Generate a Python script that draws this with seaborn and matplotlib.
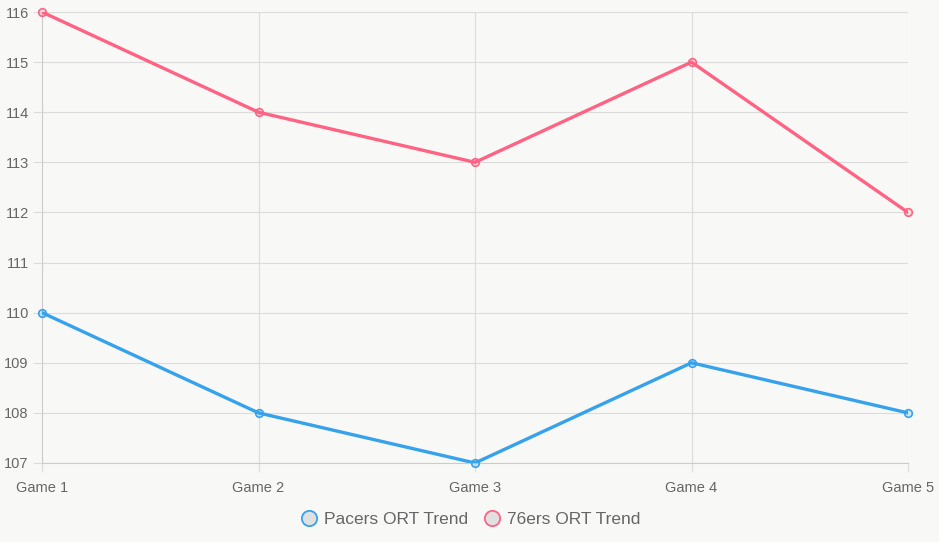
import matplotlib
matplotlib.use("Agg")
import matplotlib.pyplot as plt
import seaborn as sns
import pandas as pd
from matplotlib.lines import Line2D

games = ["Game 1", "Game 2", "Game 3", "Game 4", "Game 5"]
pacers = [110, 108, 107, 109, 108]
sixers = [116, 114, 113, 115, 112]
series_names = ["Pacers ORT Trend", "76ers ORT Trend"]
y_ticks = [107, 108, 109, 110, 111, 112, 113, 114, 115, 116]

sns.set_theme(style="white")
plt.rcParams["font.family"] = ["Liberation Sans", "DejaVu Sans"]

bg = "#f8f8f6"
blue = "#36a2eb"
pink = "#ff6384"
grid_c = "#dcdcdc"
text_c = "#666666"

df = pd.DataFrame({
    "game": games * 2,
    "x": list(range(len(games))) * 2,
    "value": pacers + sixers,
    "series": [series_names[0]] * len(games) + [series_names[1]] * len(games),
})

fig = plt.figure(figsize=(9.39, 5.42), dpi=100, facecolor=bg)
ax = fig.add_axes([42 / 939, 1 - 463 / 542, (908 - 42) / 939, (463 - 12) / 542])
ax.set_facecolor(bg)

palette = {series_names[0]: blue, series_names[1]: pink}
sns.lineplot(data=df, x="x", y="value", hue="series", palette=palette,
             linewidth=2.4, legend=False, ax=ax, zorder=3)
fills = {series_names[0]: (0.21, 0.64, 0.92, 0.2), series_names[1]: (1.0, 0.39, 0.52, 0.2)}
for name in series_names:
    sub = df[df["series"] == name]
    ax.scatter(sub["x"], sub["value"], s=30, facecolor=fills[name],
               edgecolor=palette[name], linewidth=1.2, zorder=4, clip_on=False)

ax.set_xlim(0, len(games) - 1)
ax.set_ylim(107, 116)
ax.set_xticks(range(len(games)))
ax.set_xticklabels(games)
ax.set_yticks(y_ticks)
ax.set_xlabel("")
ax.set_ylabel("")
ax.grid(True, color=grid_c, linewidth=0.8)
ax.tick_params(axis="both", colors=text_c, labelsize=10.5, length=6.5, width=0.8,
               color=grid_c, left=True, bottom=True)
ax.tick_params(axis="x", pad=6.5)
ax.tick_params(axis="y", pad=3)
for side in ["top", "right"]:
    ax.spines[side].set_visible(False)
for side in ["left", "bottom"]:
    ax.spines[side].set_color("#cccccc")
    ax.spines[side].set_linewidth(0.8)

handles = [Line2D([0], [0], marker="o", linestyle="", markersize=11,
                  markerfacecolor="#e0e0e0", markeredgecolor=c, markeredgewidth=1.3)
           for c in [blue, pink]]
fig.legend(handles, series_names, loc="center", bbox_to_anchor=(0.5, 1 - 519 / 542),
           ncol=2, frameon=False, fontsize=12.5, labelcolor=text_c,
           handletextpad=0.3, columnspacing=0.75, handlelength=1.2)

fig.savefig("out.png", dpi=100, facecolor=bg)
